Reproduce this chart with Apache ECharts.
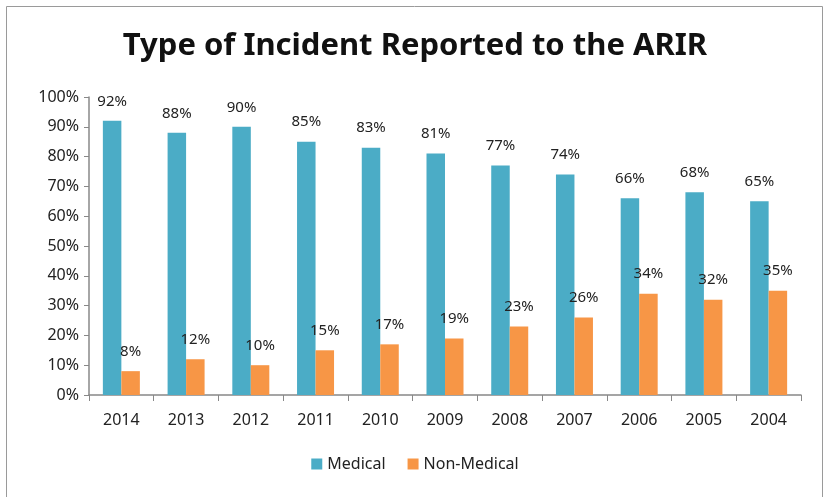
<!DOCTYPE html>
<html>
<head>
<meta charset="utf-8">
<script src="https://cdn.jsdelivr.net/npm/echarts@6/dist/echarts.min.js"></script>
<style>
  html, body { margin: 0; padding: 0; background: #fff; }
  #chart { width: 830px; height: 497px; }
</style>
</head>
<body>
<div id="chart"></div>
<script>
// data
const years = ['2014', '2013', '2012', '2011', '2010', '2009', '2008', '2007', '2006', '2005', '2004']
const medical = [92, 88, 90, 85, 83, 81, 77, 74, 66, 68, 65]
const nonMedical = [8, 12, 10, 15, 17, 19, 23, 26, 34, 32, 35]

const font = 'Noto Sans'
const chart = echarts.init(document.getElementById('chart'))

const labelStyle = {
  show: true,
  position: 'top',
  distance: 12,
  color: '#222',
  fontFamily: font,
  fontSize: 15,
  formatter: p => p.value + '%'
}

chart.setOption({
  animation: false,
  graphic: [{
    type: 'rect',
    shape: { x: 6.5, y: 6.5, width: 816, height: 500 },
    style: { fill: 'none', stroke: '#9a9a9a', lineWidth: 1 }
  }],
  title: {
    text: 'Type of Incident Reported to the ARIR',
    left: 'center',
    top: 26,
    textStyle: { fontFamily: font, fontWeight: 'bold', fontSize: 31, color: '#111' }
  },
  grid: { left: 89, right: 29, top: 97, bottom: 102, containLabel: false },
  legend: {
    bottom: 20,
    left: 'center',
    itemWidth: 11,
    itemHeight: 11,
    itemGap: 22,
    icon: 'rect',
    textStyle: { fontFamily: font, fontSize: 16, color: '#222' }
  },
  xAxis: {
    type: 'category',
    data: years,
    axisLine: { lineStyle: { color: '#888', width: 1.5 } },
    axisTick: { show: true, length: 6, lineStyle: { color: '#888' } },
    axisLabel: { fontFamily: font, fontSize: 16, color: '#222', margin: 17 }
  },
  yAxis: {
    type: 'value',
    min: 0,
    max: 100,
    interval: 10,
    splitLine: { show: false },
    axisLine: { show: true, lineStyle: { color: '#888', width: 1.5 } },
    axisTick: { show: true, length: 5, inside: false, lineStyle: { color: '#888' } },
    axisLabel: { fontFamily: font, fontSize: 16, color: '#222', margin: 10, formatter: '{value}%' }
  },
  series: [
    {
      name: 'Medical',
      type: 'bar',
      data: medical,
      barWidth: 18.5,
      barGap: '0%',
      itemStyle: { color: '#4BACC6' },
      label: labelStyle
    },
    {
      name: 'Non-Medical',
      type: 'bar',
      data: nonMedical,
      barWidth: 18.5,
      itemStyle: { color: '#F79646' },
      label: labelStyle
    }
  ]
})
</script>
</body>
</html>
